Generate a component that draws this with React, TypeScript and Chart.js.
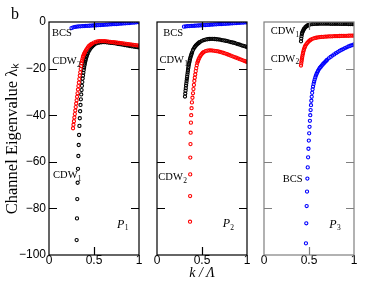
import React, { useEffect, useRef } from "react";
import { Chart, registerables } from "chart.js";

Chart.register(...registerables);

type Pt = [number, number];

// ---------- axes ----------
const kRange = [0, 1];
const lambdaRange = [-100, 0];
const kStep = 0.5;
const lambdaStep = 20;
const innerKTicks = [0.5];
const innerLambdaTicks = [-20, -40, -60, -80];

// ---------- panel P1 ----------
const p1BCS: Pt[] = [
  [0.25, -2.6], [0.27, -2.3], [0.29, -2.1], [0.31, -2.0], [0.33, -1.9], [0.35, -1.85], [0.37, -1.8],
  [0.39, -1.75], [0.41, -1.7], [0.43, -1.65], [0.45, -1.6], [0.47, -1.55], [0.49, -1.5], [0.51, -1.45],
  [0.53, -1.4], [0.55, -1.35], [0.57, -1.3], [0.59, -1.25], [0.61, -1.2], [0.63, -1.15], [0.65, -1.1],
  [0.67, -1.05], [0.69, -1.0], [0.71, -0.95], [0.73, -0.9], [0.75, -0.85], [0.77, -0.8], [0.79, -0.74],
  [0.81, -0.68], [0.83, -0.62], [0.85, -0.56], [0.87, -0.5], [0.89, -0.44], [0.91, -0.37], [0.93, -0.3],
  [0.95, -0.22], [0.97, -0.14], [0.99, -0.06], [1.0, 0],
];
const p1CDW2: Pt[] = [
  [0.267, -45.6], [0.272, -44.1], [0.277, -42.6], [0.282, -41.0], [0.287, -39.5], [0.292, -38.0],
  [0.297, -36.5], [0.302, -35.0], [0.307, -33.6], [0.312, -32.1], [0.317, -30.6], [0.322, -29.0],
  [0.327, -27.5], [0.332, -26.0], [0.337, -24.5], [0.342, -23.0], [0.347, -21.6], [0.352, -20.2],
  [0.357, -18.9], [0.362, -17.7], [0.367, -16.7], [0.372, -15.8], [0.377, -15.0], [0.382, -14.5],
  [0.387, -14.0], [0.392, -13.6], [0.397, -13.2], [0.402, -12.8], [0.41, -12.2], [0.42, -11.6],
  [0.43, -11.0], [0.44, -10.5], [0.45, -10.1], [0.46, -9.8], [0.47, -9.5], [0.48, -9.25], [0.5, -8.85],
  [0.52, -8.55], [0.54, -8.35], [0.56, -8.25], [0.58, -8.2], [0.6, -8.2], [0.62, -8.25], [0.64, -8.3],
  [0.66, -8.4], [0.68, -8.5], [0.7, -8.6], [0.72, -8.7], [0.74, -8.8], [0.76, -8.9], [0.78, -9.0],
  [0.8, -9.1], [0.82, -9.2], [0.84, -9.3], [0.86, -9.4], [0.88, -9.5], [0.9, -9.6], [0.92, -9.7],
  [0.94, -9.8], [0.96, -9.9], [0.98, -10.0], [1.0, -10.1],
];
const p1CDW1: Pt[] = [
  [0.307, -93.6], [0.311, -84.3], [0.314, -76.0], [0.318, -69.0], [0.322, -63.0], [0.326, -57.5],
  [0.33, -52.8], [0.334, -48.5], [0.338, -44.6], [0.342, -41.3], [0.346, -38.3], [0.35, -35.6],
  [0.354, -33.2], [0.358, -31.1], [0.362, -29.2], [0.366, -27.4], [0.37, -25.8], [0.374, -24.3],
  [0.378, -23.0], [0.382, -21.8], [0.386, -20.6], [0.39, -19.6], [0.394, -18.7], [0.398, -17.9],
  [0.402, -17.1], [0.406, -16.4], [0.41, -15.8], [0.415, -15.1], [0.42, -14.5], [0.425, -14.0],
  [0.43, -13.5], [0.44, -12.7], [0.45, -12.0], [0.46, -11.4], [0.47, -10.9], [0.48, -10.5], [0.49, -10.1],
  [0.5, -9.8], [0.52, -9.3], [0.54, -9.0], [0.56, -8.8], [0.58, -8.7], [0.6, -8.65], [0.62, -8.65],
  [0.64, -8.7], [0.66, -8.8], [0.68, -8.9], [0.7, -9.0], [0.72, -9.1], [0.74, -9.2], [0.76, -9.35],
  [0.78, -9.5], [0.8, -9.6], [0.82, -9.75], [0.84, -9.9], [0.86, -10.0], [0.88, -10.15], [0.9, -10.3],
  [0.92, -10.4], [0.94, -10.55], [0.96, -10.7], [0.98, -10.8], [1.0, -10.9],
];

// ---------- panel P2 ----------
const p2BCS: Pt[] = [
  [0.3, -2.0], [0.32, -1.9], [0.34, -1.8], [0.36, -1.75], [0.38, -1.7], [0.4, -1.65], [0.42, -1.6],
  [0.44, -1.55], [0.46, -1.5], [0.48, -1.45], [0.5, -1.4], [0.52, -1.35], [0.54, -1.3], [0.56, -1.25],
  [0.58, -1.2], [0.6, -1.15], [0.62, -1.1], [0.64, -1.05], [0.66, -1.0], [0.68, -0.95], [0.7, -0.9],
  [0.72, -0.85], [0.74, -0.8], [0.76, -0.75], [0.78, -0.7], [0.8, -0.65], [0.82, -0.6], [0.84, -0.55],
  [0.86, -0.5], [0.88, -0.45], [0.9, -0.4], [0.92, -0.35], [0.94, -0.3], [0.96, -0.25], [0.98, -0.2],
  [1.0, -0.15],
];
const p2CDW1: Pt[] = [
  [0.311, -32.0], [0.314, -30.7], [0.317, -29.5], [0.32, -28.4], [0.323, -27.3], [0.326, -26.3],
  [0.329, -25.3], [0.332, -24.4], [0.335, -23.5], [0.338, -22.5], [0.341, -21.6], [0.344, -20.7],
  [0.347, -19.9], [0.35, -19.2], [0.354, -18.3], [0.358, -17.5], [0.362, -16.8], [0.366, -16.1],
  [0.37, -15.5], [0.375, -14.8], [0.38, -14.2], [0.385, -13.6], [0.39, -13.0], [0.4, -12.0], [0.41, -11.3],
  [0.42, -10.7], [0.43, -10.2], [0.44, -9.8], [0.45, -9.4], [0.46, -9.1], [0.47, -8.8], [0.48, -8.5],
  [0.5, -8.1], [0.52, -7.8], [0.54, -7.55], [0.56, -7.4], [0.58, -7.3], [0.6, -7.25], [0.62, -7.25],
  [0.64, -7.3], [0.66, -7.4], [0.68, -7.5], [0.7, -7.6], [0.72, -7.75], [0.74, -7.9], [0.76, -8.05],
  [0.78, -8.2], [0.8, -8.4], [0.82, -8.6], [0.84, -8.8], [0.86, -9.0], [0.88, -9.25], [0.9, -9.5],
  [0.92, -9.75], [0.94, -10.0], [0.96, -10.25], [0.98, -10.5], [1.0, -10.8],
];
const p2CDW2: Pt[] = [
  [0.367, -85.7], [0.368, -74.7], [0.369, -65.4], [0.37, -58.2], [0.372, -52.4], [0.374, -47.5],
  [0.377, -43.2], [0.38, -40.0], [0.384, -37.0], [0.388, -34.5], [0.394, -32.5], [0.4, -30.6],
  [0.405, -28.8], [0.41, -27.0], [0.415, -25.3], [0.42, -23.9], [0.425, -22.5], [0.43, -21.1],
  [0.436, -19.8], [0.442, -18.6], [0.448, -17.5], [0.455, -16.8], [0.462, -16.1], [0.47, -15.4],
  [0.48, -14.7], [0.49, -14.1], [0.5, -13.6], [0.51, -13.2], [0.52, -12.9], [0.54, -12.5], [0.56, -12.3],
  [0.58, -12.2], [0.6, -12.2], [0.62, -12.25], [0.64, -12.35], [0.66, -12.5], [0.68, -12.65],
  [0.7, -12.85], [0.72, -13.05], [0.74, -13.3], [0.76, -13.55], [0.78, -13.85], [0.8, -14.15],
  [0.82, -14.45], [0.84, -14.75], [0.86, -15.05], [0.88, -15.35], [0.9, -15.65], [0.92, -15.95],
  [0.94, -16.25], [0.96, -16.55], [0.98, -16.85], [1.0, -17.15],
];

// ---------- panel P3 ----------
const p3CDW1: Pt[] = [
  [0.411, -8.3], [0.414, -7.1], [0.417, -6.1], [0.421, -5.2], [0.425, -4.6], [0.43, -4.1], [0.436, -3.6],
  [0.443, -3.1], [0.45, -2.7], [0.46, -2.25], [0.47, -1.9], [0.48, -1.6], [0.49, -1.4], [0.5, -1.2],
  [0.52, -1.0], [0.54, -0.9], [0.56, -0.82], [0.58, -0.78], [0.6, -0.75], [0.62, -0.74], [0.64, -0.73],
  [0.66, -0.73], [0.68, -0.73], [0.7, -0.74], [0.72, -0.74], [0.74, -0.75], [0.76, -0.76], [0.78, -0.77],
  [0.8, -0.78], [0.82, -0.79], [0.84, -0.8], [0.86, -0.81], [0.88, -0.82], [0.9, -0.83], [0.92, -0.84],
  [0.94, -0.85], [0.96, -0.86], [0.98, -0.87], [1.0, -0.88],
];
const p3CDW2: Pt[] = [
  [0.411, -18.7], [0.414, -17.8], [0.417, -17.0], [0.42, -16.2], [0.423, -15.5], [0.426, -14.8],
  [0.43, -14.0], [0.434, -13.3], [0.438, -12.6], [0.443, -11.9], [0.448, -11.3], [0.454, -10.7],
  [0.46, -10.2], [0.47, -9.6], [0.48, -9.05], [0.49, -8.6], [0.5, -8.2], [0.51, -7.9], [0.52, -7.6],
  [0.54, -7.2], [0.56, -6.95], [0.58, -6.75], [0.6, -6.6], [0.62, -6.5], [0.64, -6.42], [0.66, -6.36],
  [0.68, -6.3], [0.7, -6.25], [0.72, -6.21], [0.74, -6.17], [0.76, -6.13], [0.78, -6.1], [0.8, -6.07],
  [0.82, -6.04], [0.84, -6.01], [0.86, -5.99], [0.88, -5.97], [0.9, -5.95], [0.92, -5.93], [0.94, -5.91],
  [0.96, -5.89], [0.98, -5.87], [1.0, -5.85],
];
const p3BCS: Pt[] = [
  [0.466, -95.0], [0.47, -86.4], [0.474, -79.0], [0.478, -72.8], [0.482, -67.2], [0.486, -62.4],
  [0.49, -58.1], [0.494, -54.4], [0.498, -50.9], [0.502, -47.8], [0.506, -45.0], [0.51, -42.4],
  [0.514, -40.0], [0.518, -37.8], [0.522, -35.7], [0.526, -33.8], [0.53, -32.1], [0.535, -30.4],
  [0.54, -28.9], [0.545, -27.7], [0.551, -26.6], [0.557, -25.6], [0.563, -24.7], [0.57, -23.8],
  [0.577, -23.0], [0.584, -22.3], [0.591, -21.7], [0.6, -21.0], [0.61, -20.3], [0.62, -19.7],
  [0.63, -19.3], [0.64, -18.8], [0.65, -18.3], [0.66, -17.9], [0.67, -17.5], [0.68, -17.1], [0.69, -16.7],
  [0.7, -16.3], [0.72, -15.6], [0.74, -15.0], [0.76, -14.4], [0.78, -13.9], [0.8, -13.4], [0.82, -12.9],
  [0.84, -12.4], [0.86, -12.0], [0.88, -11.6], [0.9, -11.2], [0.92, -10.85], [0.94, -10.5], [0.96, -10.2],
  [0.98, -9.9], [1.0, -9.6],
];

const BLUE = "#0000ff";
const RED = "#ff0000";
const BLACK = "#000000";

type Series = { name: string; points: Pt[]; color: string };
type Label = { text: string; sub: string; k: number; v: number; italic?: boolean };

const SERIF = '"Liberation Serif", "Times New Roman", serif';
const SANS = '"Liberation Sans", Arial, sans-serif';

const formatTick = (v: any) => {
  const n = Number(v);
  return n < 0 ? "\u2212" + String(Math.abs(n)) : String(n);
};

const decorPlugin = {
  id: "panelDecor",
  afterDatasetsDraw(chart: any, _args: any, opts: any) {
    const { ctx, chartArea: a, scales } = chart;
    const xs = scales.x;
    const ys = scales.y;
    ctx.save();
    ctx.strokeStyle = opts.frameColor;
    ctx.lineWidth = 1.2;
    ctx.strokeRect(a.left, a.top, a.right - a.left, a.bottom - a.top);
    ctx.beginPath();
    for (const v of innerLambdaTicks) {
      const py = Math.round(ys.getPixelForValue(v)) + 0.5;
      ctx.moveTo(a.left, py);
      ctx.lineTo(a.left + 8, py);
      ctx.moveTo(a.right, py);
      ctx.lineTo(a.right - 8, py);
    }
    for (const v of innerKTicks) {
      const px = Math.round(xs.getPixelForValue(v)) + 0.5;
      ctx.moveTo(px, a.bottom);
      ctx.lineTo(px, a.bottom - 8);
      ctx.moveTo(px, a.top);
      ctx.lineTo(px, a.top + 8);
    }
    ctx.stroke();

    ctx.fillStyle = "#000";
    ctx.textAlign = "left";
    ctx.textBaseline = "alphabetic";
    const labels: Label[] = opts.labels || [];
    for (const l of labels) {
      const px = xs.getPixelForValue(l.k);
      const py = ys.getPixelForValue(l.v);
      ctx.font = l.italic ? `italic 12px ${SERIF}` : `10.5px ${SERIF}`;
      ctx.fillText(l.text, px, py);
      if (l.sub) {
        const w = ctx.measureText(l.text).width;
        ctx.font = `7.5px ${SERIF}`;
        ctx.fillText(l.sub, px + w + 0.3, py + 2.8);
      }
    }
    if (opts.letter) {
      ctx.font = `16px ${SERIF}`;
      ctx.fillText(opts.letter, 11, 19);
    }
    ctx.restore();
  },
};

type PanelProps = {
  left: number;
  width: number;
  padLeft: number;
  padRight: number;
  series: Series[];
  labels: Label[];
  frameColor: string;
  showY: boolean;
  xTitle: boolean;
  letter?: string;
};

function Panel(p: PanelProps) {
  const ref = useRef<HTMLCanvasElement>(null);
  useEffect(() => {
    const chart = new Chart(ref.current as HTMLCanvasElement, {
      type: "scatter",
      data: {
        datasets: p.series.map((s) => ({
          label: s.name,
          data: s.points.map(([k, v]) => ({ x: k, y: v })),
          borderColor: s.color,
          backgroundColor: "rgba(0,0,0,0)",
          pointRadius: 1.6,
          pointBorderWidth: 1.1,
          pointStyle: "circle",
          showLine: false,
        })),
      },
      options: {
        responsive: false,
        animation: false,
        events: [],
        layout: { padding: { left: p.padLeft, right: p.padRight, top: 22, bottom: 0 } },
        plugins: {
          legend: { display: false },
          tooltip: { enabled: false },
          panelDecor: { frameColor: p.frameColor, labels: p.labels, letter: p.letter || "" },
        } as any,
        scales: {
          x: {
            type: "linear",
            min: kRange[0],
            max: kRange[1],
            ticks: {
              stepSize: kStep,
              color: "#000",
              padding: -2,
              maxRotation: 0,
              font: { family: SANS, size: 12 },
              callback: formatTick,
            },
            grid: { display: false, drawTicks: false },
            border: { display: false },
            title: {
              display: p.xTitle,
              text: "k / Λ",
              color: "#000",
              font: { family: SERIF, size: 14, style: "italic" },
              padding: { top: 0, bottom: 11 },
            },
            afterFit: (s: any) => {
              s.height = 38;
            },
          },
          y: {
            type: "linear",
            display: p.showY,
            min: lambdaRange[0],
            max: lambdaRange[1],
            ticks: {
              stepSize: lambdaStep,
              color: "#000",
              padding: 3,
              font: { family: SANS, size: 12 },
              callback: formatTick,
            },
            grid: { display: false, drawTicks: false },
            border: { display: false },
            title: {
              display: p.showY,
              text: "Channel Eigenvalue λₖ",
              color: "#000",
              font: { family: SERIF, size: 16.5 },
              padding: { top: 2.5, bottom: 0 },
            },
            afterFit: (s: any) => {
              s.width = p.showY ? 49 : 0;
            },
          },
        } as any,
      },
      plugins: [decorPlugin as any],
    });
    return () => chart.destroy();
  }, []);
  return (
    <canvas
      ref={ref}
      width={p.width}
      height={293}
      style={{ position: "absolute", left: p.left, top: 0, width: p.width, height: 293 }}
    />
  );
}

export default function App() {
  return (
    <div style={{ position: "fixed", left: 0, top: 0, width: 390, height: 293, background: "#fff", overflow: "hidden" }}>
      <Panel
        left={0}
        width={146}
        padLeft={0}
        padRight={7}
        frameColor="#000"
        showY={true}
        xTitle={false}
        letter="b"
        series={[
          { name: "BCS", points: p1BCS, color: BLUE },
          { name: "CDW2", points: p1CDW2, color: RED },
          { name: "CDW1", points: p1CDW1, color: BLACK },
        ]}
        labels={[
          { text: "BCS", sub: "", k: 0.033, v: -6.0 },
          { text: "CDW", sub: "2", k: 0.035, v: -18.0 },
          { text: "CDW", sub: "1", k: 0.045, v: -67.1 },
          { text: "P", sub: "1", k: 0.756, v: -88.2, italic: true },
        ]}
      />
      <Panel
        left={146}
        width={108}
        padLeft={11}
        padRight={7}
        frameColor="#000"
        showY={false}
        xTitle={true}
        series={[
          { name: "BCS", points: p2BCS, color: BLUE },
          { name: "CDW1", points: p2CDW1, color: BLACK },
          { name: "CDW2", points: p2CDW2, color: RED },
        ]}
        labels={[
          { text: "BCS", sub: "", k: 0.07, v: -6.0 },
          { text: "CDW", sub: "1", k: 0.028, v: -17.7 },
          { text: "CDW", sub: "2", k: 0.015, v: -67.8 },
          { text: "P", sub: "2", k: 0.73, v: -88.0, italic: true },
        ]}
      />
      <Panel
        left={254}
        width={136}
        padLeft={10}
        padRight={36}
        frameColor="#7f7f7f"
        showY={false}
        xTitle={false}
        series={[
          { name: "CDW1", points: p3CDW1, color: BLACK },
          { name: "CDW2", points: p3CDW2, color: RED },
          { name: "BCS", points: p3BCS, color: BLUE },
        ]}
        labels={[
          { text: "CDW", sub: "1", k: 0.074, v: -5.3 },
          { text: "CDW", sub: "2", k: 0.074, v: -17.0 },
          { text: "BCS", sub: "", k: 0.208, v: -68.5 },
          { text: "P", sub: "3", k: 0.726, v: -88.2, italic: true },
        ]}
      />
    </div>
  );
}
